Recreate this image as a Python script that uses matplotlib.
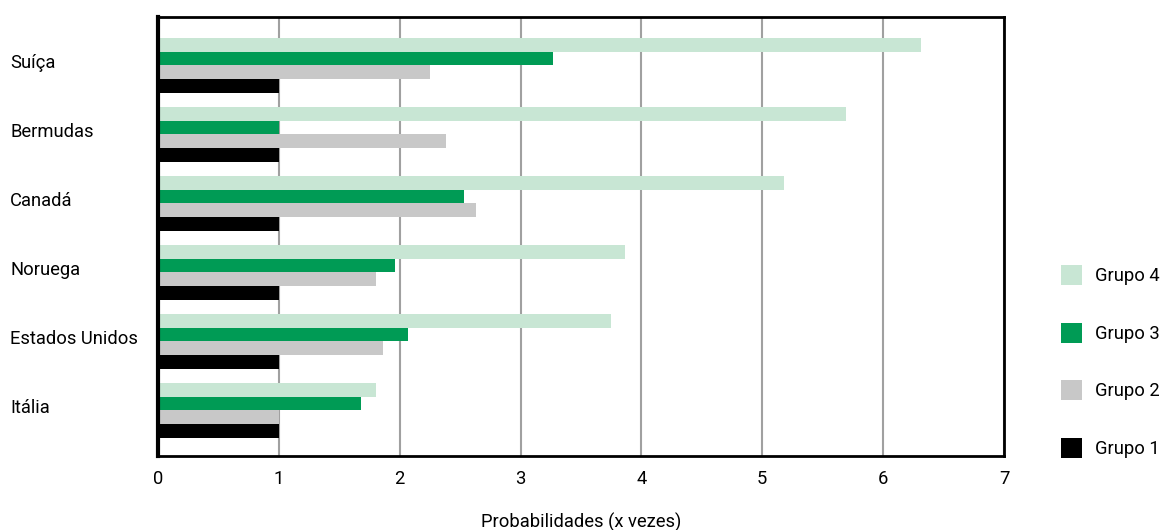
import matplotlib
matplotlib.use("Agg")
import matplotlib.pyplot as plt
import matplotlib.transforms as mtransforms
from matplotlib.patches import Patch
import numpy as np

plt.rcParams['font.family'] = ['Roboto', 'DejaVu Sans']

countries = ["Suíça", "Bermudas", "Canadá", "Noruega", "Estados Unidos", "Itália"]
grupo4 = [6.31, 5.69, 5.18, 3.86, 3.75, 1.80]
grupo3 = [3.27, 1.00, 2.53, 1.96, 2.07, 1.68]
grupo2 = [2.25, 2.38, 2.63, 1.80, 1.86, 1.00]
grupo1 = [1.00, 1.00, 1.00, 1.00, 1.00, 1.00]
series_names = ["Grupo 4", "Grupo 3", "Grupo 2", "Grupo 1"]
colors = ["#c8e6d4", "#009b55", "#c8c8c8", "#000000"]
xticks = [0, 1, 2, 3, 4, 5, 6, 7]
xlabel = "Probabilidades (x vezes)"

FS = 13.2
fig = plt.figure(figsize=(11.66, 5.30), dpi=100)
ax = fig.add_axes([158/1166, 1 - 456/530, (1004-158)/1166, (456-17)/530])

n = len(countries)
y = np.arange(n)[::-1]
h = 0.2
offsets = [0.3, 0.1, -0.1, -0.3]
for vals, off, c in zip([grupo4, grupo3, grupo2, grupo1], offsets, colors):
    ax.barh(y + off, vals, height=h, color=c, zorder=3)

ax.set_xlim(0, 7)
ax.set_ylim(-0.66, 5.70)
ax.set_xticks(xticks)
ax.set_xticklabels([str(t) for t in xticks], fontsize=FS)
ax.xaxis.grid(True, color="#a0a0a0", linewidth=1.5, zorder=0)
ax.set_axisbelow(True)
ax.tick_params(axis='x', length=0, pad=10)
ax.set_yticks([])
trans = mtransforms.blended_transform_factory(fig.transFigure, ax.transData)
for yi, name in zip(y, countries):
    ax.text(10/1166, yi + 0.04, name, transform=trans, ha='left', va='center', fontsize=FS)
ax.set_xlabel(xlabel, fontsize=FS, labelpad=18)

for s in ['top', 'right', 'bottom', 'left']:
    ax.spines[s].set_linewidth(2)
    ax.spines[s].set_color('black')
    ax.spines[s].set_zorder(5)
ax.spines['left'].set_linewidth(3)

handles = [Patch(facecolor=c, edgecolor='none') for c in colors]
fig.legend(handles, series_names, loc='center left', bbox_to_anchor=(1061/1166, 1 - 361.5/530),
           frameon=False, fontsize=FS, handlelength=1.15, handleheight=1.3,
           labelspacing=2.05, handletextpad=0.72, borderpad=0, borderaxespad=0)

fig.savefig("out.png", dpi=100)
